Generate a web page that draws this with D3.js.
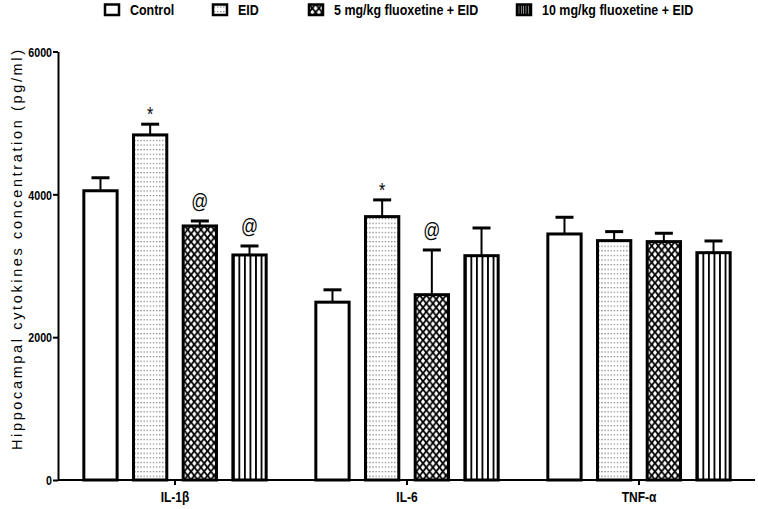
<!DOCTYPE html>
<html>
<head>
<meta charset="utf-8">
<script src="https://cdn.jsdelivr.net/npm/d3@7"></script>
<style>
  html, body { margin: 0; padding: 0; background: #fff; }
  svg { display: block; }
  .narrow { font-family: "Liberation Sans Narrow", "Arial Narrow", "Liberation Sans", Arial, sans-serif; }
</style>
</head>
<body>
<svg id="chart" width="758" height="509"></svg>
<script>
// ---- data ----
const categories = ["IL-1\u03b2", "IL-6", "TNF-\u03b1"];
const seriesNames = ["Control", "EID", "5 mg/kg fluoxetine + EID", "10 mg/kg fluoxetine + EID"];
const controlMeans = [4050, 2490, 3445];
const controlErrors = [182, 173, 234];
const eidMeans = [4832, 3688, 3352];
const eidErrors = [150, 234, 126];
const flx5Means = [3557, 2595, 3338];
const flx5Errors = [70, 626, 117];
const flx10Means = [3151, 3141, 3183];
const flx10Errors = [126, 388, 164];
const yTicks = [0, 2000, 4000, 6000];
// significance marks: [category index, series index, symbol]
const marks = [[0, 1, "*"], [0, 2, "@"], [0, 3, "@"], [1, 1, "*"], [1, 2, "@"]];

const means = [controlMeans, eidMeans, flx5Means, flx10Means];
const errors = [controlErrors, eidErrors, flx5Errors, flx10Errors];

const svg = d3.select("#chart");
const defs = svg.append("defs");

// condense text horizontally (narrow font look)
function condense(sel, k) {
  sel.each(function () {
    const L = this.getComputedTextLength();
    d3.select(this).attr("textLength", L * k).attr("lengthAdjust", "spacingAndGlyphs");
  });
}

// patterns
const pDots = defs.append("pattern").attr("id", "pDots")
  .attr("patternUnits", "userSpaceOnUse").attr("width", 3.1).attr("height", 4.6);
pDots.append("rect").attr("width", 3.1).attr("height", 4.6).attr("fill", "#fff");
pDots.append("rect").attr("x", 1).attr("y", 2).attr("width", 1).attr("height", 1).attr("fill", "#333");

const cw = 6.6, ch = 8.2, hw = 2.1, hh = 2.65;
const pCross = defs.append("pattern").attr("id", "pCross")
  .attr("patternUnits", "userSpaceOnUse").attr("width", cw).attr("height", ch);
pCross.append("rect").attr("width", cw).attr("height", ch).attr("fill", "#000");
[[cw / 2, ch / 2], [0, 0], [cw, 0], [0, ch], [cw, ch]].forEach(([cx, cy]) => {
  pCross.append("polygon")
    .attr("points", `${cx},${cy - hh} ${cx + hw},${cy} ${cx},${cy + hh} ${cx - hw},${cy}`)
    .attr("fill", "#fff");
});

const pVert = defs.append("pattern").attr("id", "pVert")
  .attr("patternUnits", "objectBoundingBox").attr("width", 1 / 6).attr("height", 1);
pVert.append("rect").attr("width", 40).attr("height", 1000).attr("fill", "#fff");
pVert.append("rect").attr("x", 0).attr("width", 1.8).attr("height", 1000).attr("fill", "#000");

const fills = ["#fff", "url(#pDots)", "url(#pCross)", "url(#pVert)"];

// scales
const x0 = d3.scaleBand().domain(categories).range([59, 755]).paddingInner(0).paddingOuter(0);
const x1 = d3.scaleBand().domain(d3.range(seriesNames.length)).range([0, x0.bandwidth()])
  .paddingInner(0.33).paddingOuter(0.5);
const y = d3.scaleLinear().domain([0, 6000]).range([480, 51.5]);

// axes
const yAxis = d3.axisLeft(y).tickValues(yTicks).tickSize(5).tickSizeOuter(0).tickFormat(d3.format("d"));
const gy = svg.append("g").attr("transform", "translate(58,0)").call(yAxis);
gy.select(".domain").attr("stroke", "#000").attr("stroke-width", 2);
gy.selectAll(".tick line").attr("stroke", "#000").attr("stroke-width", 2);
gy.selectAll(".tick text").attr("class", "narrow").attr("font-size", 13).attr("font-weight", "bold")
  .attr("fill", "#000").attr("x", -6).attr("dy", "0.36em").call(condense, 0.82);

const xAxis = d3.axisBottom(x0).tickSize(5).tickSizeOuter(0);
const gx = svg.append("g").attr("transform", "translate(0,480)").call(xAxis);
gx.select(".domain").attr("stroke", "#000").attr("stroke-width", 2);
gx.selectAll(".tick line").attr("stroke", "#000").attr("stroke-width", 2);
gx.selectAll(".tick text").attr("class", "narrow").attr("font-size", 15).attr("font-weight", "bold")
  .attr("fill", "#000").attr("y", 11).attr("dy", "0.71em").call(condense, 0.8);
gx.selectAll(".domain").attr("d", "M58,0H755");

// bars
const groups = svg.append("g").selectAll("g").data(categories).join("g")
  .attr("transform", d => `translate(${x0(d)},0)`);

groups.each(function (cat, ci) {
  const g = d3.select(this);
  seriesNames.forEach((s, si) => {
    const m = means[si][ci], e = errors[si][ci];
    const bx = x1(si), bw = x1.bandwidth(), cx = bx + bw / 2;
    // error bar
    g.append("line").attr("x1", cx).attr("x2", cx).attr("y1", y(m)).attr("y2", y(m + e))
      .attr("stroke", "#000").attr("stroke-width", 2);
    g.append("line").attr("x1", cx - 9).attr("x2", cx + 9).attr("y1", y(m + e)).attr("y2", y(m + e))
      .attr("stroke", "#000").attr("stroke-width", 3);
    g.append("rect").attr("x", bx).attr("y", y(m)).attr("width", bw).attr("height", y(0) - y(m))
      .attr("fill", fills[si]).attr("stroke", "#000").attr("stroke-width", 3);
  });
});

// significance marks
marks.forEach(([ci, si, sym]) => {
  const cx = x0(categories[ci]) + x1(si) + x1.bandwidth() / 2;
  const top = y(means[si][ci] + errors[si][ci]);
  svg.append("text").attr("class", "narrow")
    .attr("x", cx).attr("y", sym === "*" ? top - 3 : top - 13)
    .attr("text-anchor", "middle").attr("font-size", sym === "*" ? 20 : 21)
    .attr("fill", "#000").text(sym).call(condense, 0.8);
});

// y-axis title
svg.append("text")
  .attr("transform", "translate(21.5,250) rotate(-90)")
  .attr("text-anchor", "middle")
  .attr("font-family", "'Liberation Sans', Arial, sans-serif")
  .attr("font-size", 14.5).attr("fill", "#000")
  .attr("textLength", 400).attr("lengthAdjust", "spacing")
  .text("Hippocampal cytokines concentration (pg/ml)");

// legend
const legendX = [105, 213, 309, 517];
const leg = svg.append("g").selectAll("g").data(seriesNames).join("g")
  .attr("transform", (d, i) => `translate(${legendX[i]},0)`);
leg.append("rect").attr("x", 0).attr("y", 4.5).attr("width", 14).attr("height", 10.5)
  .attr("fill", (d, i) => fills[i]).attr("stroke", "#000").attr("stroke-width", 2.5);
leg.append("text").attr("class", "narrow").attr("x", 25).attr("y", 15)
  .attr("font-size", 15).attr("font-weight", "bold").attr("fill", "#000").text(d => d)
  .call(condense, 0.83);
</script>
</body>
</html>
